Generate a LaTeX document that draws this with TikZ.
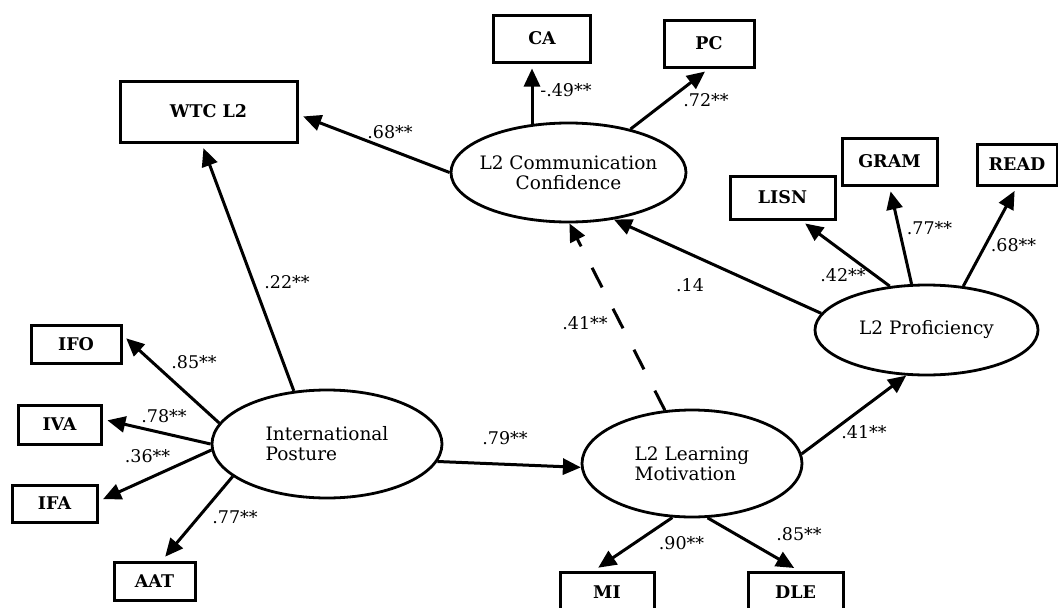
\documentclass[tikz,border=0pt]{standalone}
\usepackage{fontspec}
\setmainfont{DejaVu Serif}
\usetikzlibrary{arrows.meta,shapes.geometric}

\begin{document}
\begin{tikzpicture}[x=1pt,y=-1pt,
        obs/.style={draw,line width=3pt,inner sep=0pt,font=\fontsize{17.5}{20}\selectfont\bfseries},
        lat/.style={draw,ellipse,line width=2.8pt,inner xsep=-40pt,inner ysep=0pt,align=left,font=\fontsize{18.5}{20}\selectfont},
        coef/.style={inner sep=0pt,font=\fontsize{17.5}{20}\selectfont},
        arr/.style={line width=3pt,-{Triangle[length=18pt,width=16pt]}},
        arrbox/.style={arr,shorten >=5pt}]
                \useasboundingbox (0,0) rectangle (1058,608);
                \clip (0,0) rectangle (1058,608);
                \node[obs,minimum width=177pt,minimum height=61pt] (wtc) at (208.5,111.5) {WTC L2};
                \node[obs,minimum width=97pt,minimum height=47pt] (ca) at (542,38.5) {CA};
                \node[obs,minimum width=90pt,minimum height=47pt] (pc) at (709,43.5) {PC};
                \node[obs,minimum width=105pt,minimum height=43pt] (lisn) at (782.5,197.5) {LISN};
                \node[obs,minimum width=95pt,minimum height=47pt] (gram) at (889.5,161.5) {GRAM};
                \node[obs,minimum width=80pt,minimum height=41pt] (read) at (1017,164.5) {READ};
                \node[obs,minimum width=90pt,minimum height=38pt] (ifo) at (76,344) {IFO};
                \node[obs,minimum width=83pt,minimum height=39pt] (iva) at (59.5,424.5) {IVA};
                \node[obs,minimum width=85pt,minimum height=37pt] (ifa) at (54.5,503.5) {IFA};
                \node[obs,minimum width=81pt,minimum height=38pt] (aat) at (154.5,581) {AAT};
                \node[obs,minimum width=94pt,minimum height=40pt] (mi) at (607,592) {MI};
                \node[obs,minimum width=95pt,minimum height=40pt] (dle) at (795.5,592) {DLE};
                \node[lat,align=center,minimum width=235pt,minimum height=99pt] (cc) at (568.5,172.5) {L2 Communication\\Confidence};
                \node[lat,minimum width=223pt,minimum height=90pt] (prof) at (926.5,330) {L2 Proficiency};
                \node[lat,minimum width=230pt,minimum height=108pt] (ip) at (327,444) {International\\Posture};
                \node[lat,minimum width=220pt,minimum height=107pt] (mot) at (692,463.5) {L2 Learning\\Motivation};
                \draw[arrbox] (cc.180) -- (wtc.-2);
                \draw[arrbox] (cc.127) -- (cc.127 |- ca.south);
                \draw[arrbox] (cc.35) -- (pc.south);
                \draw[arrbox] (ip.122) -- (wtc.-102);
                \draw[arr] (prof.171) -- (cc.-46);
                \draw[arr,dash pattern=on 22pt off 24pt] (mot.117) -- (cc.-89);
                \draw[arr] (ip.-9) -- (mot.-178);
                \draw[arr] (mot.5) -- (prof.-114);
                \draw[arrbox] (prof.130) -- (lisn.-51);
                \draw[arrbox] (prof.108) -- (gram.south);
                \draw[arrbox] (prof.50) -- (read.south);
                \draw[arrbox] (ip.169) -- (ifo.11);
                \draw[arrbox] (ip.180) -- (iva.7);
                \draw[arrbox] (ip.-177) -- (ifa.3);
                \draw[arrbox] (ip.-161) -- (aat.70);
                \draw[arrbox] (mot.-110) -- (mi.121);
                \draw[arrbox] (mot.-74) -- (dle.82);
                \node[coef] (lwtc) at (390,132) {.68**};
                \node[coef] (lca) at (566,90) {-.49**};
                \node[coef] (lpc) at (706,100) {.72**};
                \node[coef] (lwtcip) at (287,282) {.22**};
                \node[coef] (lccprof) at (690,285) {.14};
                \node[coef] (lccmot) at (585,323) {.41**};
                \node[coef] (lmot) at (505,438) {.79**};
                \node[coef] (lprof) at (864,432) {.41**};
                \node[coef] (llisn) at (843,275) {.42**};
                \node[coef] (lgram) at (929.5,228) {.77**};
                \node[coef] (lread) at (1013.5,245) {.68**};
                \node[coef] (lifo) at (194,362) {.85**};
                \node[coef] (liva) at (164,416) {.78**};
                \node[coef] (lifa) at (147.5,456) {.36**};
                \node[coef] (laat) at (235,517) {.77**};
                \node[coef] (lmi) at (681.5,543) {.90**};
                \node[coef] (ldle) at (799,534) {.85**};
\end{tikzpicture}
\end{document}
